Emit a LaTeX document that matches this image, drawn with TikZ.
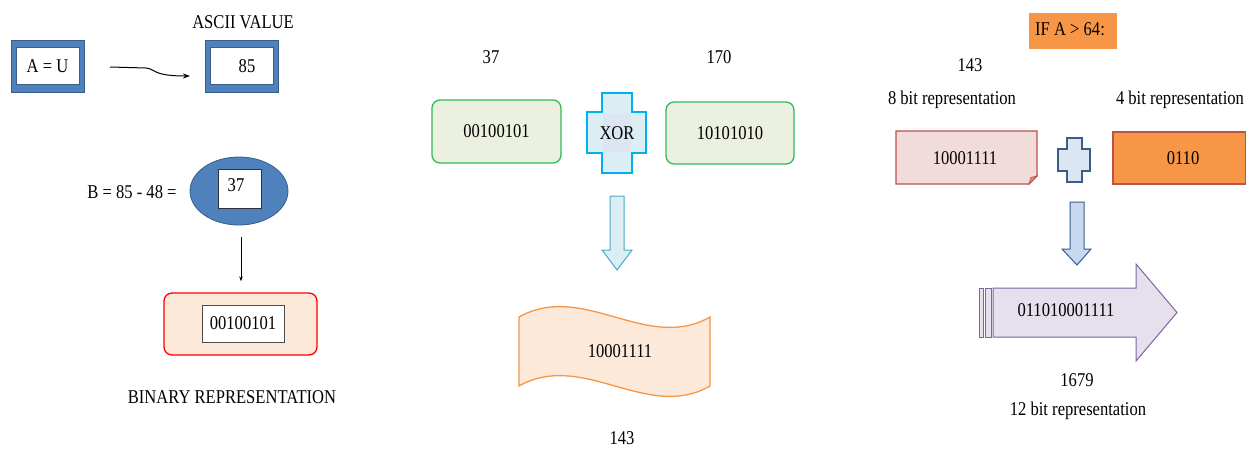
\documentclass[tikz,border=0pt]{standalone}
\usepackage{fontspec}
\setmainfont{Liberation Serif}[FakeStretch=0.85]
\usetikzlibrary{arrows.meta,shapes.geometric}
\definecolor{bluefill}{HTML}{4F81BD}
\definecolor{bluedark}{HTML}{385D8A}
\definecolor{peach}{HTML}{FDE9D9}
\definecolor{greenfill}{HTML}{EBF1DE}
\definecolor{greenline}{HTML}{33B85A}
\definecolor{xorfill}{HTML}{DAEEF3}
\definecolor{xorline}{HTML}{00B0F0}
\definecolor{arrline}{HTML}{4BACC6}
\definecolor{waveline}{HTML}{F79646}
\definecolor{orangefill}{HTML}{F79646}
\definecolor{pinkfill}{HTML}{F2DCDB}
\definecolor{pinkline}{HTML}{C0504D}
\definecolor{plusfill}{HTML}{DCE6F2}
\definecolor{purplefill}{HTML}{E5E0EC}
\definecolor{purpleline}{HTML}{8064A2}
\definecolor{downfill}{HTML}{C6D9F1}
\tikzset{
  txt/.style={font=\fontsize{19.5}{23}\selectfont, inner sep=0pt, text=black},
  frameout/.style={draw=bluedark, fill=bluefill, line width=0.8pt, minimum width=73pt, minimum height=52pt, inner sep=0pt},
  framein/.style={txt, draw=bluedark, fill=white, line width=0.6pt, minimum width=63pt, minimum height=37pt},
  whitebox/.style={txt, draw=black!70, fill=white, line width=0.6pt},
  greenbox/.style={txt, draw=greenline, fill=greenfill, line width=1.3pt, rounded corners=8pt, minimum width=129pt, minimum height=63pt},
}
\begin{document}
\begin{tikzpicture}[x=1pt,y=-1pt]
\useasboundingbox (0,0) rectangle (1246,448);
\fill[white] (0,0) rectangle (1246,448);
% ---------- left column ----------
\node[frameout] (auo) at (47.5,66) {};
\node[framein] (au) at (47.5,66) {A = U};
\node[frameout] (vo) at (242,66) {};
\node[framein] (v85) at (242,66) {\hspace*{10pt}85};
\node[txt] (ascii) at (243,22) {ASCII VALUE};
\coordinate (c1) at (110,67);
\coordinate (c2) at (146,68);
\coordinate (c3) at (190,76);
\draw[line width=1pt, -{Stealth[length=7pt,width=5pt]}] (c1) -- (c2) .. controls (156,69) and (152,76) .. (c3);

\node[txt] (btxt) at (132,192) {B = 85 - 48 =};
\node[ellipse, draw=bluedark, fill=bluefill, line width=0.8pt, minimum width=98pt, minimum height=68pt, inner sep=0pt] (ell) at (239,191) {};
\node[draw=black!80, fill=white, line width=0.6pt, minimum width=43pt, minimum height=39pt, inner sep=0pt] (b37) at (239.5,188.5) {};
\node[txt] (t37) at (236,185) {37};
\node[draw=red, fill=peach, line width=1.3pt, rounded corners=8pt, minimum width=153pt, minimum height=62pt, inner sep=0pt] (redbox) at (240.5,324) {};
\node[whitebox, minimum width=82pt, minimum height=37pt] (bin1) at (243,323.5) {00100101};
\coordinate (v1) at ([xshift=2pt,yshift=-12pt]ell.south);
\draw[line width=0.6pt, -{Stealth[length=5pt,width=3.5pt]}] (v1) -- ([yshift=11pt]v1 |- redbox.north);
\node[txt] (binrep) at (232,397) {BINARY REPRESENTATION};

% ---------- middle column ----------
\node[txt] (n37) at (491,57) {37};
\node[txt] (n170) at (719,57) {170};
\node[greenbox] (g1) at (496.5,131.5) {00100101};
\node[greenbox, minimum width=128pt, minimum height=62pt] (g2) at (730,133) {10101010};
\draw[draw=xorline, fill=xorfill, line width=1.3pt]
  (602,93) -- (632,93) -- (632,112) -- (646,112) -- (646,153) -- (632,153) -- (632,173)
  -- (602,173) -- (602,153) -- (587,153) -- (587,112) -- (602,112) -- cycle;
\fill[plusfill] (602.7,112.7) rectangle (631.3,152.3);
\node[txt] (xor) at (617,133) {XOR};
\draw[draw=arrline, fill=xorfill, line width=1pt]
  (610,196) -- (624,196) -- (624,250) -- (632,250) -- (617,270) -- (602,250) -- (610,250) -- cycle;
\draw[draw=waveline, fill=peach, line width=1.3pt]
  (519,317) .. controls (583,281) and (647,353) .. (710,317)
  -- (710,386) .. controls (647,422) and (583,350) .. (519,386) -- cycle;
\node[txt] (res) at (620,351) {10001111};
\node[txt] (n143b) at (622,438) {143};

% ---------- right column ----------
\fill[orangefill] (1029,13) rectangle (1117,49);
\node[txt, anchor=west] (ifa) at (1035,29) {IF A > 64:};
\node[txt] (n143) at (970,65) {143};
\node[txt] (rep8) at (952,100) {8 bit representation};
\node[txt] (rep4) at (1180,100) {4 bit representation};
\draw[draw=pinkline, fill=pinkfill, line width=1.3pt]
  (896,131) -- (1037,131) -- (1037,176) -- (1029,184) -- (896,184) -- cycle;
\draw[draw=pinkline, fill=pinkline!60, line width=0.8pt] (1037,176) -- (1031,177.5) -- (1029,184) -- cycle;
\node[txt] (p8) at (965,158) {10001111};
\draw[draw=bluedark, fill=plusfill, line width=1.3pt]
  (1067,138) -- (1082,138) -- (1082,149) -- (1090,149) -- (1090,171) -- (1082,171) -- (1082,182)
  -- (1067,182) -- (1067,171) -- (1058,171) -- (1058,149) -- (1067,149) -- cycle;
\draw[draw=pinkline, fill=orangefill, line width=1.3pt] (1113,132) rectangle (1245.3,184);
\node[txt] (p4) at (1183,158) {0110};
\draw[draw=bluedark, fill=downfill, line width=1pt]
  (1070,202) -- (1084,202) -- (1084,249) -- (1091,249) -- (1077,265) -- (1062,249) -- (1070,249) -- cycle;
\draw[draw=purpleline, fill=purplefill, line width=1pt] (979,288) rectangle (983,337);
\draw[draw=purpleline, fill=purplefill, line width=1pt] (985,288) rectangle (991,337);
\draw[draw=purpleline, fill=purplefill, line width=1pt]
  (993,288) -- (1136,288) -- (1136,264) -- (1177,312.5) -- (1136,361) -- (1136,337) -- (993,337) -- cycle;
\node[txt] (p12) at (1066,310) {011010001111};
\node[txt] (n1679) at (1077,380) {1679};
\node[txt] (rep12) at (1078,411) {12 bit representation};
\end{tikzpicture}
\end{document}
